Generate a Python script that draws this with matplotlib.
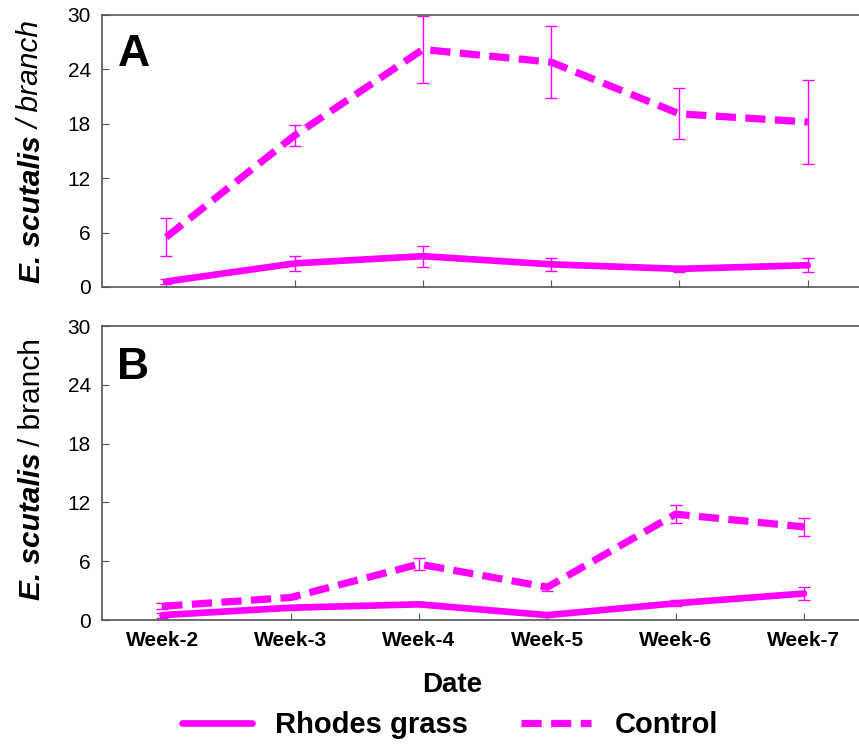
import matplotlib
matplotlib.use("Agg")
import matplotlib.pyplot as plt

plt.rcParams['font.family'] = ['Liberation Sans', 'DejaVu Sans']

weeks = ["Week-2", "Week-3", "Week-4", "Week-5", "Week-6", "Week-7"]

# panel A
a_rhodes = [0.6, 2.6, 3.4, 2.5, 2.0, 2.4]
a_rhodes_err = [0.3, 0.8, 1.15, 0.75, 0.3, 0.8]
a_control = [5.5, 16.7, 26.2, 24.8, 19.1, 18.2]
a_control_err = [2.1, 1.2, 3.7, 3.95, 2.8, 4.6]

# panel B
b_rhodes = [0.5, 1.25, 1.6, 0.5, 1.7, 2.7]
b_rhodes_err = [0.25, 0.2, 0.2, 0.2, 0.3, 0.7]
b_control = [1.4, 2.3, 5.7, 3.35, 10.8, 9.5]
b_control_err = [0.3, 0.2, 0.6, 0.35, 0.9, 0.9]

yticks = [0, 6, 12, 18, 24, 30]
MAG = '#ff00ff'

fig = plt.figure(figsize=(8.59, 7.45), dpi=100)
W, H = 859, 745

def px_axes(left, top, right, bottom):
    return fig.add_axes([left / W, 1 - bottom / H, (right - left) / W, (bottom - top) / H])

ax_a = px_axes(102, 15, 872, 287)
ax_b = px_axes(102, 326, 872, 620)

def draw_panel(ax, rhodes, rerr, control, cerr, letter, xoff):
    x = list(range(len(weeks)))
    ax.errorbar(x, control, yerr=cerr, fmt='none', ecolor=MAG, elinewidth=1,
                capsize=4.5, capthick=1, zorder=2)
    ax.errorbar(x, rhodes, yerr=rerr, fmt='none', ecolor=MAG, elinewidth=1,
                capsize=4.5, capthick=1, zorder=2)
    l1, = ax.plot(x, rhodes, color=MAG, lw=4.8, solid_capstyle='round',
                  solid_joinstyle='round', zorder=3, label='Rhodes grass')
    l2, = ax.plot(x, control, color=MAG, lw=5.2, dashes=(2.8, 1.3),
                  dash_capstyle='butt', zorder=3, label='Control')
    ax.set_xlim(-0.5 + xoff, 5.5 + xoff)
    ax.set_ylim(0, 30)
    ax.set_yticks(yticks)
    ax.set_yticklabels([str(t) for t in yticks], fontsize=15)
    ax.set_xticks(x)
    ax.tick_params(axis='both', direction='in', length=5, width=0.8,
                   color='#555555', pad=8)
    for s in ax.spines.values():
        s.set_color('#555555')
        s.set_linewidth(1.2)
    ax.text(0.02, 0.93, letter, transform=ax.transAxes, fontsize=32,
            fontweight='bold', ha='left', va='top')
    return l1, l2

l1, l2 = draw_panel(ax_a, a_rhodes, a_rhodes_err, a_control, a_control_err, 'A', 0)
draw_panel(ax_b, b_rhodes, b_rhodes_err, b_control, b_control_err, 'B', 0.03)

ax_a.set_xticklabels([])
ax_b.set_xticklabels(weeks, fontsize=15, fontweight='bold')

# y labels: bold italic species name + "/ branch"
fig.canvas.draw()
renderer = fig.canvas.get_renderer()

def ylabel(x_px, ybot_px, style2):
    t1 = fig.text(x_px / W, 1 - ybot_px / H, 'E. scutalis', rotation=90,
                  fontsize=21.5, fontweight='bold', fontstyle='italic',
                  ha='center', va='bottom')
    bb = t1.get_window_extent(renderer)
    fig.text(x_px / W, bb.y1 / H + 6 / H, '/ branch', rotation=90,
             fontsize=21.5, fontstyle=style2, ha='center', va='bottom')

ylabel(32, 283, 'italic')
ylabel(32, 600, 'normal')

fig.text(452 / W, 1 - 685 / H, 'Date', fontsize=20, fontweight='bold',
         ha='center', va='center')

fig.legend(handles=[l1, l2], loc='lower center', bbox_to_anchor=(450 / W, -0.012),
           ncol=2, frameon=False, prop={'weight': 'bold', 'size': 21},
           handlelength=2.4, columnspacing=1.8, handletextpad=0.8,
           borderpad=0.0)

fig.savefig('out.png', dpi=100)
